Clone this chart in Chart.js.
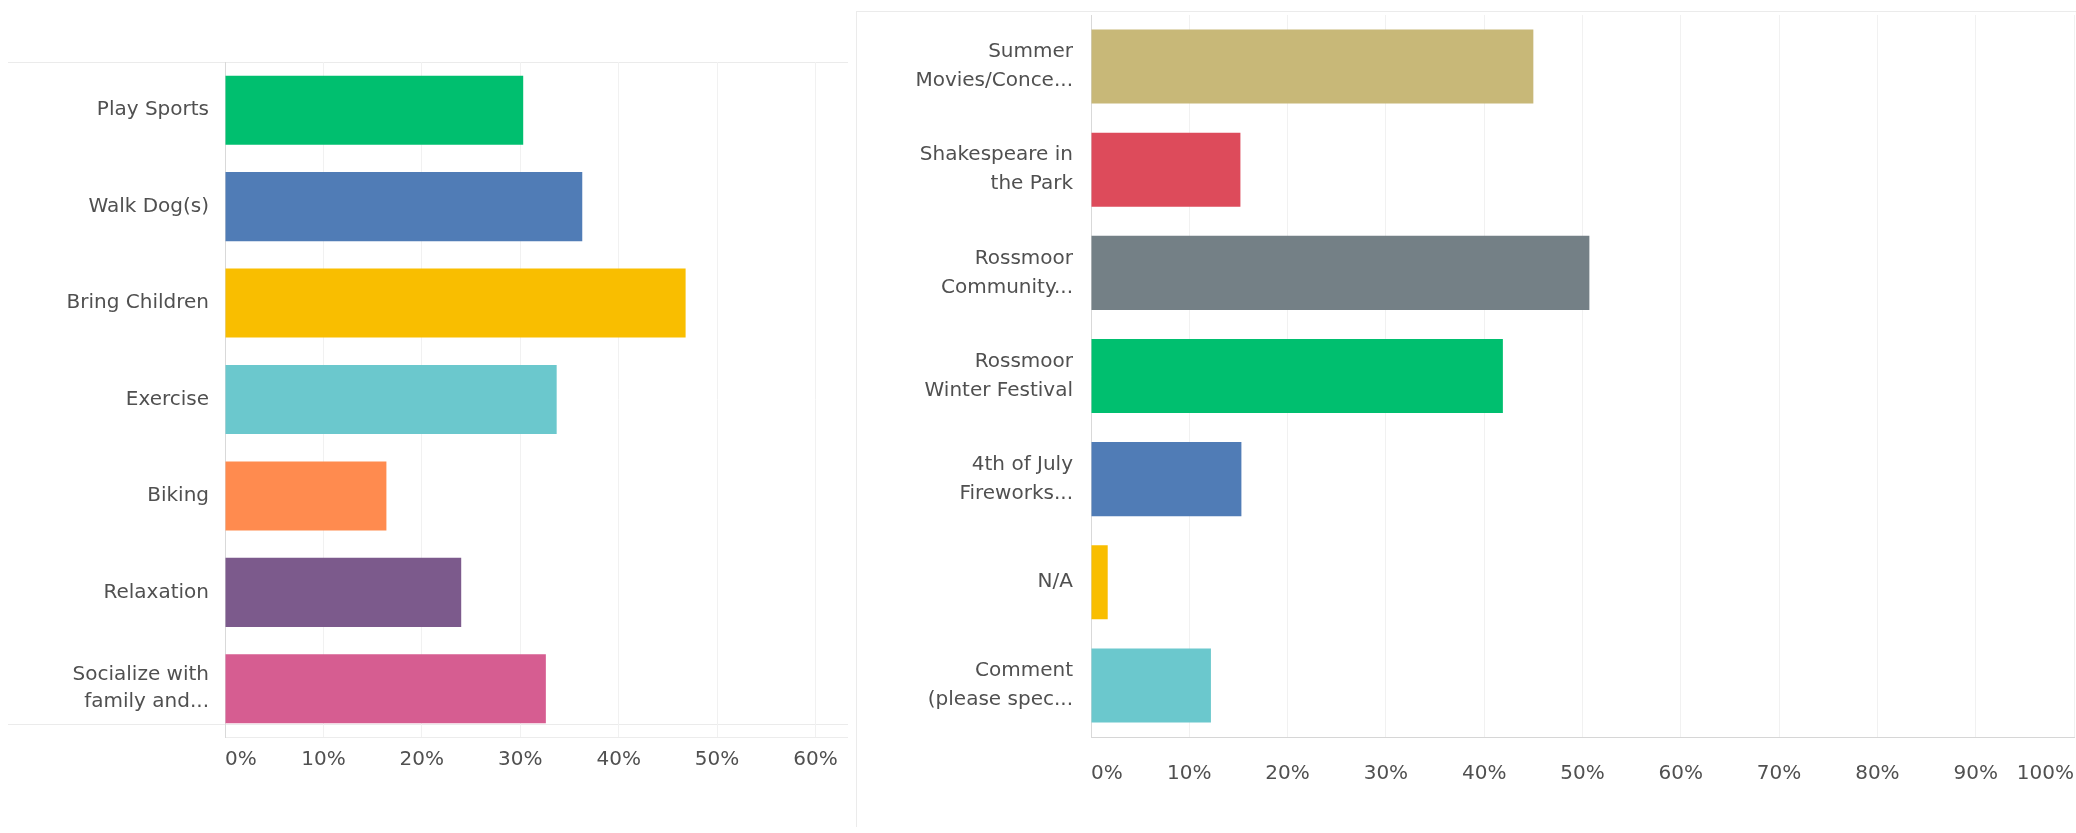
<!DOCTYPE html>
<html>
<head>
<meta charset="utf-8">
<title>Park use and community events</title>
<script src="https://cdn.jsdelivr.net/npm/chart.js@4/dist/chart.umd.min.js"></script>
<style>
  html, body { margin: 0; padding: 0; background: #ffffff; width: 2076px; height: 833px; overflow: hidden; }
  canvas { position: absolute; top: 0; }
  #activities { left: 0; }
  #events { left: 848px; }
  .rule { position: absolute; background: #ebebeb; }
</style>
</head>
<body>
<!-- light panel frames -->
<div class="rule" style="left:8px; top:62px; width:840px; height:1px;"></div>
<div class="rule" style="left:8px; top:724px; width:840px; height:1px;"></div>
<div class="rule" style="left:856px; top:11px; width:1220px; height:1px;"></div>
<div class="rule" style="left:856px; top:11px; width:1px; height:816px;"></div>

<canvas id="activities" width="848" height="833"></canvas>
<canvas id="events" width="1228" height="833"></canvas>

<script>
// Why people visit the park (share of respondents, %)
const activityLabels = [
  'Play Sports',
  'Walk Dog(s)',
  'Bring Children',
  'Exercise',
  'Biking',
  'Relaxation',
  ['Socialize with', 'family and...']
];
const activityShares = [30.3, 36.3, 46.8, 33.7, 16.4, 24.0, 32.6];
const activityColors = ['#00bf6f', '#507cb6', '#f9be00', '#6bc8cd', '#ff8b4f', '#7c5a8c', '#d65d91'];

// Community events attended (share of respondents, %)
const eventLabels = [
  ['Summer', 'Movies/Conce...'],
  ['Shakespeare in', 'the Park'],
  ['Rossmoor', 'Community...'],
  ['Rossmoor', 'Winter Festival'],
  ['4th of July', 'Fireworks...'],
  'N/A',
  ['Comment', '(please spec...']
];
const eventShares = [45.0, 15.2, 50.7, 41.9, 15.3, 1.7, 12.2];
const eventColors = ['#c8b878', '#dd4b5b', '#748086', '#00bf6f', '#507cb6', '#f9be00', '#6bc8cd'];

// Percent axis ticks
const percentStep = 10;
const activityAxisMax = 63.3;   // the left panel shows the scale up to just past 60%
const eventAxisMax = 100;

const FONT = 'DejaVu Sans, Verdana, sans-serif';
const TEXT = '#505050';

// Pin an axis to a fixed thickness so both panels line up with their frames
function fixedAxis(size) {
  return function (scale) {
    if (scale.isHorizontal()) { scale.height = size; } else { scale.width = size; }
    scale.paddingTop = 0; scale.paddingBottom = 0;
    scale.paddingLeft = 0; scale.paddingRight = 0;
  };
}

// Ticks every 10% plus the axis end (unlabelled when it is not a round step)
function percentTicks(scale) {
  const ticks = [];
  for (let v = 0; v <= scale.max + 1e-9; v += percentStep) { ticks.push({ value: v }); }
  if (Math.abs(ticks[ticks.length - 1].value - scale.max) > 1e-6) { ticks.push({ value: scale.max }); }
  scale.ticks = ticks;
}

function percentLabel(value) {
  return Math.abs(value % percentStep) < 1e-6 ? value + '%' : '';
}

function barPanel(canvasId, labels, values, colors, opts) {
  return new Chart(document.getElementById(canvasId), {
    type: 'bar',
    data: {
      labels: labels,
      datasets: [{
        data: values,
        backgroundColor: colors,
        borderWidth: 0,
        categoryPercentage: 1,
        barPercentage: opts.barPercentage
      }]
    },
    options: {
      indexAxis: 'y',
      responsive: false,
      devicePixelRatio: 1,
      animation: false,
      layout: { padding: opts.padding },
      plugins: { legend: { display: false }, tooltip: { enabled: false } },
      scales: {
        x: {
          min: 0,
          max: opts.max,
          grid: { color: '#f1f1f1', lineWidth: 1, drawTicks: false },
          border: { display: true, color: opts.xBorder, width: 1 },
          ticks: {
            autoSkip: false,
            maxRotation: 0,
            align: 'inner',
            padding: opts.xTickPad,
            color: TEXT,
            font: { family: FONT, size: 20 },
            callback: percentLabel
          },
          afterBuildTicks: percentTicks,
          afterFit: fixedAxis(96)
        },
        y: {
          grid: { display: false, drawTicks: false },
          border: { display: true, color: '#d9d9d9', width: 1 },
          ticks: {
            padding: opts.yTickPad,
            color: TEXT,
            font: { family: FONT, size: 20, lineHeight: opts.lineHeight }
          },
          afterFit: fixedAxis(opts.yWidth)
        }
      }
    }
  });
}

barPanel('activities', activityLabels, activityShares, activityColors, {
  max: activityAxisMax,
  padding: { top: 62, right: 0, bottom: 0, left: 0 },
  yWidth: 225,
  yTickPad: 16,
  xTickPad: 11,
  lineHeight: 1.35,
  barPercentage: 0.716,
  xBorder: '#ececec'
});

barPanel('events', eventLabels, eventShares, eventColors, {
  max: eventAxisMax,
  padding: { top: 15, right: 2, bottom: 0, left: 0 },
  yWidth: 243,
  yTickPad: 18,
  xTickPad: 25,
  lineHeight: 1.45,
  barPercentage: 0.718,
  xBorder: '#d6d6d6'
});
</script>
</body>
</html>
